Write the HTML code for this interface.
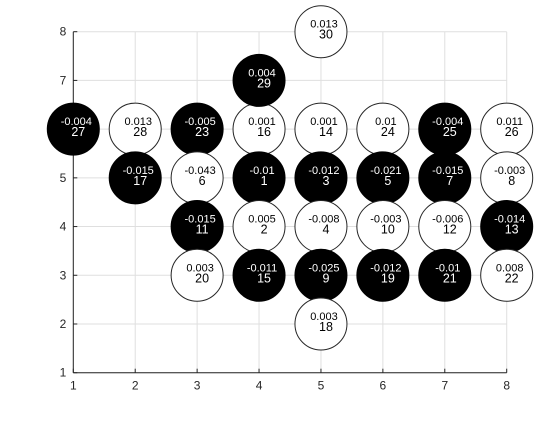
<!DOCTYPE html>
<html><head><meta charset="utf-8"><style>
body{margin:0;background:#fff}
svg text{font-family:"Liberation Sans",sans-serif}
</style></head><body>
<svg id="c" width="560" height="420" xmlns="http://www.w3.org/2000/svg">
<rect width="560" height="420" fill="#fff"/>
<g id="grid"></g><g id="axes"></g><g id="nodes"></g>
</svg>
<script>
const xs=[1,2,3,4,5,6,7,8,2,3,4,5,6,7,8,3,4,5,6,7,8,3,4,5,6,7,8,5,4,5];
const ys=[6,6,6,6,6,6,6,6,5,5,5,5,5,5,5,4,4,4,4,4,4,3,3,3,3,3,3,2,7,8];
const vals=["-0.004","0.013","-0.005","0.001","0.001","0.01","-0.004","0.011","-0.015","-0.043","-0.01","-0.012","-0.021","-0.015","-0.003","-0.015","0.005","-0.008","-0.003","-0.006","-0.014","0.003","-0.011","-0.025","-0.012","-0.01","0.008","0.003","0.004","0.013"];
const ids=[27,28,23,16,14,24,25,26,17,6,1,3,5,7,8,11,2,4,10,12,13,20,15,9,19,21,22,18,29,30];
const filled=[1,0,1,0,0,0,1,0,1,0,1,1,1,1,0,1,0,0,0,0,1,0,1,1,1,1,0,0,1,0];
const xticks=[1,2,3,4,5,6,7,8];
const yticks=[1,2,3,4,5,6,7,8];
const X0=73.3,X1=506.7,Y0=372.7,Y1=31.7;
const sx=v=>X0+(v-1)*(X1-X0)/7, sy=v=>Y0-(v-1)*(Y0-Y1)/7;
const NS="http://www.w3.org/2000/svg";
function mk(t,a,p){const e=document.createElementNS(NS,t);for(const k in a)e.setAttribute(k,a[k]);p.appendChild(e);return e;}
const g=document.getElementById('grid'),ax=document.getElementById('axes'),nd=document.getElementById('nodes');
xticks.forEach(t=>{const l=mk('line',{x1:sx(t),x2:sx(t),y1:Y1,y2:Y0,stroke:'#dfdfdf','stroke-width':1},g);

const tk=mk('line',{x1:sx(t),x2:sx(t),y1:Y0,y2:Y0-4,stroke:'#262626'},ax);

const tx=mk('text',{x:sx(t),y:Y0+17,'text-anchor':'middle','font-size':12,fill:'#262626'},ax);tx.textContent=t;
});
yticks.forEach(t=>{const l=mk('line',{x1:X0,x2:X1,y1:sy(t),y2:sy(t),stroke:'#dfdfdf','stroke-width':1},g);

const tk=mk('line',{x1:X0,x2:X0+4,y1:sy(t),y2:sy(t),stroke:'#262626'},ax);

const tx=mk('text',{x:X0-7,y:sy(t)+4,'text-anchor':'end','font-size':12,fill:'#262626'},ax);tx.textContent=t;
});
const xa=mk('line',{x1:X0,x2:X1,y1:Y0,y2:Y0,stroke:'#262626'},ax);

const ya=mk('line',{x1:X0,x2:X0,y1:Y0,y2:Y1,stroke:'#262626'},ax);

xs.forEach((x,i)=>{const cx=sx(x),cy=sy(ys[i]),f=filled[i];
const grp=mk('g',{},nd);


mk('circle',{cx:cx,cy:cy,r:26,fill:f?'#000':'#fff',stroke:f?'#000':'#262626','stroke-width':1},grp);
const col=f?'#fff':'#000';
const t1=mk('text',{x:cx+3,y:cy-4,'text-anchor':'middle','font-size':11,fill:col},grp);t1.textContent=vals[i];

const t2=mk('text',{x:cx+5,y:cy+7,'text-anchor':'middle','font-size':12.5,fill:col},grp);t2.textContent=ids[i];
});
</script>
</body></html>
